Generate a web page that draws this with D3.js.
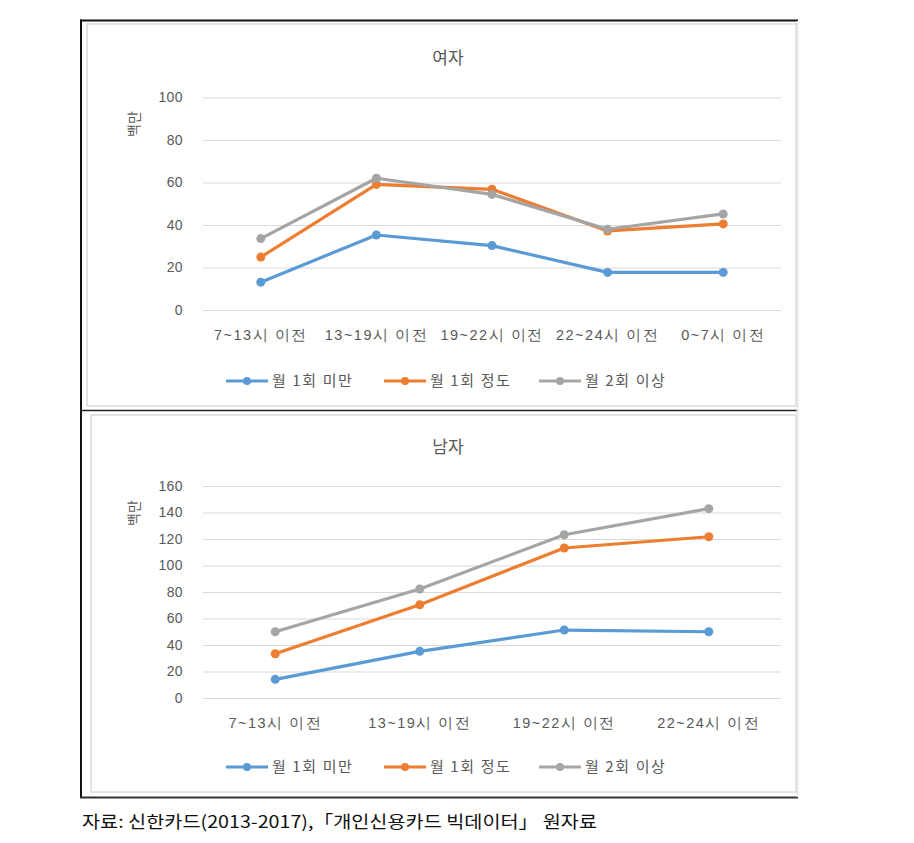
<!DOCTYPE html>
<html><head><meta charset="utf-8">
<script src="https://cdn.jsdelivr.net/npm/d3@7"></script>
<style>
html,body{margin:0;padding:0;background:#fff;}
svg{display:block;font-family:"Noto Sans CJK KR","Noto Sans",sans-serif;}
</style></head>
<body>
<svg id="chart" width="914" height="843"></svg>
<script>
// ---- data ----
const seriesNames = ["월 1회 미만", "월 1회 정도", "월 2회 이상"];
const seriesColors = ["#5B9BD5", "#ED7D31", "#A5A5A5"];

const femaleTitle = "여자";
const femaleCategories = ["7~13시 이전", "13~19시 이전", "19~22시 이전", "22~24시 이전", "0~7시 이전"];
const femaleLess = [13.1, 35.3, 30.3, 17.7, 17.7];
const femaleOnce = [24.9, 59.1, 56.8, 37.2, 40.5];
const femaleTwice = [33.6, 62.0, 54.4, 38.0, 45.2];
const femaleTicks = [0, 20, 40, 60, 80, 100];

const maleTitle = "남자";
const maleCategories = ["7~13시 이전", "13~19시 이전", "19~22시 이전", "22~24시 이전"];
const maleLess = [14.1, 35.2, 51.3, 50.0];
const maleOnce = [33.4, 70.4, 113.2, 121.7];
const maleTwice = [50.0, 82.3, 123.2, 142.9];
const maleTicks = [0, 20, 40, 60, 80, 100, 120, 140, 160];

const yLabel = "백만";
const sourceText = "자료: 신한카드(2013-2017),「개인신용카드 빅데이터」 원자료";

// ---- drawing ----
const svg = d3.select("#chart");

function drawPanel(cfg) {
  const g = svg.append("g");
  // inner chart border
  g.append("rect").attr("x", cfg.box[0]).attr("y", cfg.box[1])
    .attr("width", cfg.box[2] - cfg.box[0]).attr("height", cfg.box[3] - cfg.box[1])
    .attr("fill", "#fff").attr("stroke", "#e3e3e3").attr("stroke-width", 2);

  const x = d3.scaleBand().domain(cfg.categories).range([203, 781]);
  const y = d3.scaleLinear().domain([cfg.ticks[0], cfg.ticks[cfg.ticks.length - 1]]).range(cfg.yRange);

  // gridlines + y tick labels via axis
  const yAxis = d3.axisLeft(y).tickValues(cfg.ticks).tickSize(-(781 - 203)).tickPadding(20);
  const ya = g.append("g").attr("transform", "translate(203,0)").call(yAxis);
  ya.select(".domain").remove();
  ya.selectAll(".tick line").attr("stroke", "#d9d9d9").attr("stroke-width", 1);
  ya.selectAll(".tick text").attr("fill", "#595959").style("font-size", "14px")
    .style("letter-spacing", "0.4px").attr("x", -20);

  // x axis labels
  const xAxis = d3.axisBottom(x).tickSize(0).tickPadding(0);
  const xa = g.append("g").attr("transform", `translate(0,${cfg.xLabelY})`).call(xAxis);
  xa.select(".domain").remove();
  xa.selectAll(".tick text").attr("fill", "#595959").style("font-size", "14.5px")
    .style("letter-spacing", "1.5px").attr("dy", "0.35em").attr("y", 0);

  // title
  g.append("text").attr("x", 448).attr("y", cfg.titleY).attr("text-anchor", "middle")
    .attr("dy", "0.35em").attr("fill", "#595959").style("font-size", "17px").text(cfg.title);

  // y axis label rotated
  g.append("text").attr("transform", `translate(134,${cfg.yLabelY}) rotate(-90)`)
    .attr("text-anchor", "middle").attr("dy", "0.35em").attr("fill", "#595959")
    .style("font-size", "14px").text(yLabel);

  // lines
  const line = d3.line().x((d, i) => x(cfg.categories[i]) + x.bandwidth() / 2).y(d => y(d));
  [0, 1, 2].forEach(si => {
    const vals = cfg.series[si];
    g.append("path").datum(vals).attr("d", line).attr("fill", "none")
      .attr("stroke", seriesColors[si]).attr("stroke-width", 3.2).attr("stroke-linejoin", "round");
    g.selectAll(null).data(vals).enter().append("circle")
      .attr("cx", (d, i) => x(cfg.categories[i]) + x.bandwidth() / 2)
      .attr("cy", d => y(d)).attr("r", 4.5).attr("fill", seriesColors[si]);
  });

  // legend
  const legendX = [226, 384, 539];
  seriesNames.forEach((name, si) => {
    const lx = legendX[si];
    g.append("line").attr("x1", lx).attr("x2", lx + 42).attr("y1", cfg.legendY).attr("y2", cfg.legendY)
      .attr("stroke", seriesColors[si]).attr("stroke-width", 3.2);
    g.append("circle").attr("cx", lx + 21).attr("cy", cfg.legendY).attr("r", 4).attr("fill", seriesColors[si]);
    g.append("text").attr("x", lx + 46).attr("y", cfg.legendY).attr("dy", "0.35em")
      .attr("fill", "#595959").style("font-size", "15px").style("letter-spacing", "1.6px").text(name);
  });
}

drawPanel({
  box: [87, 24, 796, 406],
  categories: femaleCategories,
  series: [femaleLess, femaleOnce, femaleTwice],
  ticks: femaleTicks,
  yRange: [310, 97.5],
  xLabelY: 335,
  titleY: 58,
  yLabelY: 124,
  legendY: 381,
  title: femaleTitle
});

drawPanel({
  box: [91, 415, 796, 792],
  categories: maleCategories,
  series: [maleLess, maleOnce, maleTwice],
  ticks: maleTicks,
  yRange: [698, 486],
  xLabelY: 723,
  titleY: 447,
  yLabelY: 513,
  legendY: 767,
  title: maleTitle
});

// outer frame
svg.append("line").attr("x1", 81).attr("x2", 81).attr("y1", 19.5).attr("y2", 798).attr("stroke", "#111").attr("stroke-width", 2);
svg.append("line").attr("x1", 80).attr("x2", 798).attr("y1", 20.5).attr("y2", 20.5).attr("stroke", "#111").attr("stroke-width", 2);
svg.append("line").attr("x1", 80).attr("x2", 798).attr("y1", 410.5).attr("y2", 410.5).attr("stroke", "#222").attr("stroke-width", 1.5);
svg.append("line").attr("x1", 80).attr("x2", 798).attr("y1", 797.5).attr("y2", 797.5).attr("stroke", "#333").attr("stroke-width", 2);
svg.append("line").attr("x1", 797.5).attr("x2", 797.5).attr("y1", 21).attr("y2", 797).attr("stroke", "#e6e6e6").attr("stroke-width", 2);

// source text
svg.append("text").attr("x", 82).attr("y", 822).attr("dy", "0.35em").attr("fill", "#111")
  .style("font-size", "17px").attr("textLength", 515).attr("lengthAdjust", "spacingAndGlyphs").text(sourceText);
</script>
</body></html>
